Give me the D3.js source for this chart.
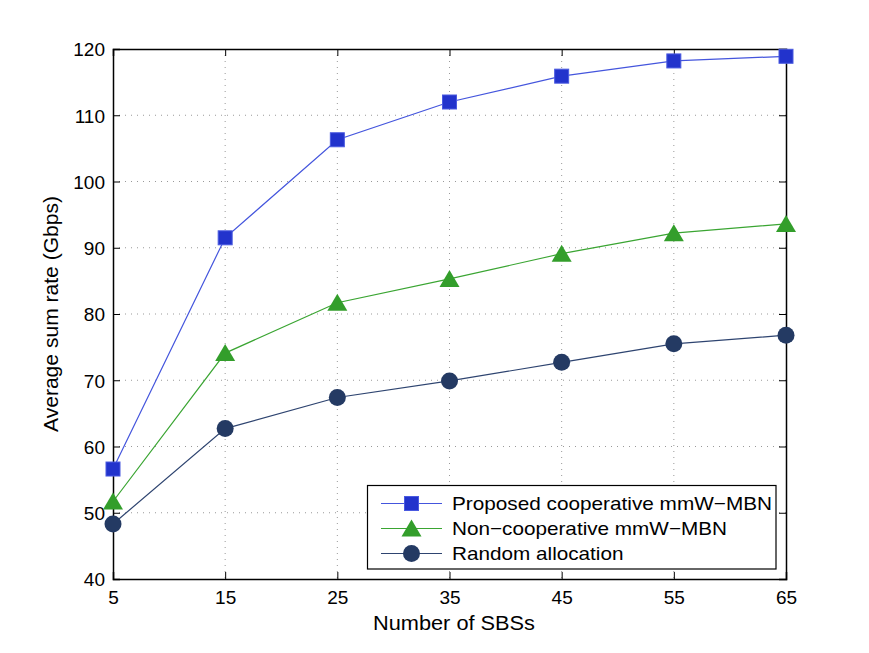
<!DOCTYPE html>
<html><head><meta charset="utf-8">
<script src="https://cdn.jsdelivr.net/npm/d3@7"></script>
<style>body{margin:0;background:#fff}svg{display:block}text{font-family:"Liberation Sans",Arial,sans-serif;fill:#000}</style>
</head><body>
<svg id="c" width="869" height="653"></svg>
<script>
const xValues = [5, 15, 25, 35, 45, 55, 65];
const proposed = [56.6, 91.5, 106.3, 112.0, 115.9, 118.2, 118.9];
const nonCoop = [51.7, 74.1, 81.7, 85.3, 89.1, 92.2, 93.6];
const randomAlloc = [48.3, 62.7, 67.4, 69.9, 72.7, 75.5, 76.8];
const seriesNames = ["Proposed cooperative mmW\u2212MBN", "Non\u2212cooperative mmW\u2212MBN", "Random allocation"];
const xTicks = [5, 15, 25, 35, 45, 55, 65];
const yTicks = [40, 50, 60, 70, 80, 90, 100, 110, 120];

const svg = d3.select("#c");
const L = 113, R = 786, T = 49, B = 579;
const x = d3.scaleLinear().domain([5, 65]).range([L, R]);
const y = d3.scaleLinear().domain([40, 120]).range([B, T]);

const series = [
  {name: seriesNames[0], values: proposed, color: "#2233cc", stroke: "#4455dd", marker: "square", tl: 320},
  {name: seriesNames[1], values: nonCoop, color: "#339e2b", stroke: "#3aa532", marker: "triangle", tl: 275},
  {name: seriesNames[2], values: randomAlloc, color: "#243a63", stroke: "#2e4470", marker: "circle", tl: 171.5}
];

// grid
const g = svg.append("g");
g.selectAll(".gx").data(xTicks.slice(1, -1)).enter().append("line")
  .attr("x1", d => x(d)).attr("x2", d => x(d)).attr("y1", T).attr("y2", B)
  .attr("stroke", "#999").attr("stroke-width", 1).attr("stroke-dasharray", "1,5");
g.selectAll(".gy").data(yTicks.slice(1, -1)).enter().append("line")
  .attr("y1", d => y(d)).attr("y2", d => y(d)).attr("x1", L).attr("x2", R)
  .attr("stroke", "#999").attr("stroke-width", 1).attr("stroke-dasharray", "1,5");

// axes with inward ticks
const fmt = d3.format("d");
const axB = svg.append("g").attr("transform", `translate(0,${B})`)
  .call(d3.axisBottom(x).tickValues(xTicks).tickSize(-7).tickPadding(12).tickFormat(fmt));
const axT = svg.append("g").attr("transform", `translate(0,${T})`)
  .call(d3.axisTop(x).tickValues(xTicks).tickSize(-7).tickFormat(""));
const axL = svg.append("g").attr("transform", `translate(${L},0)`)
  .call(d3.axisLeft(y).tickValues(yTicks).tickSize(-7).tickPadding(8).tickFormat(fmt));
const axR = svg.append("g").attr("transform", `translate(${R},0)`)
  .call(d3.axisRight(y).tickValues(yTicks).tickSize(-7).tickFormat(""));
[axB, axT, axL, axR].forEach(a => {
  a.select(".domain").attr("stroke", "#000").attr("stroke-width", 1.5);
  a.selectAll(".tick line").attr("stroke", "#000").attr("stroke-width", 1);
  a.selectAll("text").style("font-size", "19px").attr("fill", "#000")
    .style("font-family", '"Liberation Sans", Arial, sans-serif');
});
axB.selectAll("text").attr("dy", "0.71em");
axL.selectAll("text").attr("dy", "0.36em");

// labels
svg.append("text").attr("x", 373).attr("y", 630)
  .attr("textLength", 162).attr("lengthAdjust", "spacingAndGlyphs")
  .style("font-size", "20px").text("Number of SBSs");
svg.append("text").attr("transform", `translate(58,${(T + B) / 2}) rotate(-90)`)
  .attr("text-anchor", "middle").attr("textLength", 236).attr("lengthAdjust", "spacingAndGlyphs")
  .style("font-size", "20px").text("Average sum rate (Gbps)");

function drawMarker(sel, s, cx, cy) {
  if (s.marker === "square") {
    sel.append("rect").attr("x", cx - 7).attr("y", cy - 7).attr("width", 14).attr("height", 14)
      .attr("fill", s.color).attr("stroke", "#4a5ae0").attr("stroke-width", 1);
  } else if (s.marker === "triangle") {
    sel.append("path").attr("d", `M${cx},${cy - 9}L${cx + 10},${cy + 8}L${cx - 10},${cy + 8}Z`)
      .attr("fill", s.color);
  } else {
    sel.append("circle").attr("cx", cx).attr("cy", cy).attr("r", 8.5).attr("fill", s.color);
  }
}

const line = d3.line().x((d, i) => x(xValues[i])).y(d => y(d));
const plot = svg.append("g");
series.forEach(s => {
  plot.append("path").datum(s.values).attr("d", line).attr("fill", "none")
    .attr("stroke", s.stroke).attr("stroke-width", 1.2);
});
series.forEach(s => {
  const mg = plot.append("g");
  s.values.forEach((v, i) => drawMarker(mg, s, x(xValues[i]), y(v)));
});

// legend
const lg = svg.append("g");
lg.append("rect").attr("x", 367.5).attr("y", 485.5).attr("width", 408.5).attr("height", 83.5)
  .attr("fill", "#fff").attr("stroke", "#000").attr("stroke-width", 1.2);
series.forEach((s, i) => {
  const yy = 503.5 + i * 25;
  lg.append("line").attr("x1", 381).attr("x2", 442).attr("y1", yy).attr("y2", yy)
    .attr("stroke", s.stroke).attr("stroke-width", 1.2);
  drawMarker(lg, s, 411.5, yy);
  lg.append("text").attr("x", 452).attr("y", yy + 6.5)
    .attr("textLength", s.tl).attr("lengthAdjust", "spacingAndGlyphs")
    .style("font-size", "19px").text(s.name);
});
</script>
</body></html>
